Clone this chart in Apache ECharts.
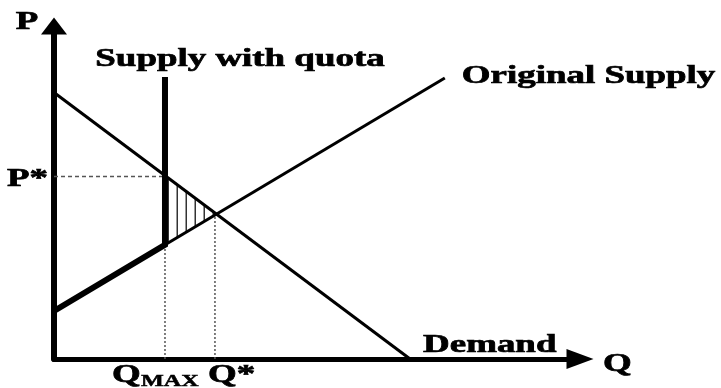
<!DOCTYPE html>
<html>
<head>
<meta charset="utf-8">
<script src="https://cdn.jsdelivr.net/npm/echarts@6/dist/echarts.min.js"></script>
<style>
  html, body { margin: 0; padding: 0; background: #fff; }
  #chart { width: 721px; height: 388px; }
</style>
</head>
<body>
<div id="chart"></div>
<script>
// values (axis units 0..100)
var demandPts = [[0, 81], [67.7, 0]];
var supplyPts = [[0, 14.6], [74.3, 85.4]];
var qMax = 21.1;
var quotaTop = 85.7;
var supplyAtQmax = 34.7;
var pStar = 55.5;
var qStar = 30.6;
var pEq = 44.2;
var curveNames = ['Demand', 'Original Supply', 'Supply with quota'];
var axisNames = ['P', 'Q'];
var starLabels = ['P*', 'Q*'];
var qMaxLabel = ['Q', 'MAX'];

var FONT = '"Liberation Serif", "Times New Roman", serif';
var SX = 1.42; // text in the picture is stretched wide

// vertical hatching pattern
var hatch = document.createElement('canvas');
hatch.width = 9;
hatch.height = 9;
var hctx = hatch.getContext('2d');
hctx.fillStyle = '#333';
hctx.fillRect(5.5, 0, 1.5, 9);

// text labels anchored to points of the chart
var notes = [
    { value: [qMax, quotaTop], text: curveNames[2], dx: 75, dy: -18, align: 'center' },
    { value: supplyPts[1], text: curveNames[1], dx: 17, dy: -2, align: 'left' },
    { value: demandPts[1], text: curveNames[0], dx: 13, dy: -14, align: 'left' },
    { value: [0, 101.2], text: axisNames[0], dx: -27, dy: -4, align: 'center' },
    { value: [100, 0], text: axisNames[1], dx: 23, dy: 5, align: 'left' },
    { value: [0, pStar], text: starLabels[0], dx: -6, dy: 3, align: 'right' },
    { value: [qStar, 0], text: starLabels[1], dx: -7, dy: 16, align: 'left' },
    { value: [qMax, 0], text: qMaxLabel[0], dx: -53, dy: 16, align: 'left', sub: qMaxLabel[1] }
];

var chart = echarts.init(document.getElementById('chart'));

var options = {
    animation: false,
    backgroundColor: '#fff',
    grid: { left: 54, right: 141, top: 26, bottom: 29 },
    xAxis: {
        type: 'value', min: 0, max: 100,
        axisLine: { show: true, symbol: ['none', 'triangle'], symbolSize: [20, 27],
            lineStyle: { color: '#000', width: 5 } },
        axisTick: { show: false }, axisLabel: { show: false }, splitLine: { show: false }
    },
    yAxis: {
        type: 'value', min: 0, max: 101.2,
        axisLine: { show: true, symbol: ['none', 'triangle'], symbolSize: [26, 17],
            lineStyle: { color: '#000', width: 6 } },
        axisTick: { show: false }, axisLabel: { show: false }, splitLine: { show: false }
    },
    series: [
        {
            // deadweight loss triangle
            type: 'custom',
            silent: true,
            z: 1,
            data: [[qMax, supplyAtQmax], [qMax, pStar], [qStar + 0.3, pEq]],
            renderItem: function (params, api) {
                if (params.dataIndex !== 0) return null;
                var d = [[qMax, supplyAtQmax], [qMax, pStar], [qStar + 0.3, pEq]];
                return {
                    type: 'polygon',
                    shape: { points: d.map(function (p) { return api.coord(p); }) },
                    style: { fill: { image: hatch, repeat: 'repeat' }, stroke: null }
                };
            }
        },
        {
            name: 'P* guide', type: 'line', symbol: 'none', z: 2,
            data: [[0, pStar], [qMax, pStar]],
            lineStyle: { color: '#555', width: 1.5, type: [4, 3] }
        },
        {
            name: 'Qmax guide', type: 'line', symbol: 'none', z: 2,
            data: [[qMax, 0], [qMax, supplyAtQmax]],
            lineStyle: { color: '#555', width: 1.5, type: [2, 2] }
        },
        {
            name: 'Q* guide', type: 'line', symbol: 'none', z: 2,
            data: [[qStar, 0], [qStar, pEq]],
            lineStyle: { color: '#555', width: 1.5, type: [2, 2] }
        },
        {
            name: curveNames[0], type: 'line', symbol: 'none', z: 3,
            data: demandPts,
            lineStyle: { color: '#000', width: 3 }
        },
        {
            name: curveNames[1], type: 'line', symbol: 'none', z: 3,
            data: supplyPts,
            lineStyle: { color: '#000', width: 3 }
        },
        {
            name: curveNames[2], type: 'line', symbol: 'none', z: 4,
            data: [supplyPts[0], [qMax, supplyAtQmax], [qMax, quotaTop]],
            lineStyle: { color: '#000', width: 6, join: 'miter' }
        },
        {
            type: 'custom',
            silent: true,
            clip: false,
            z: 5,
            data: notes.map(function (n) { return n.value; }),
            renderItem: function (params, api) {
                var n = notes[params.dataIndex];
                var pt = api.coord([api.value(0), api.value(1)]);
                var kids = [{
                    type: 'text',
                    x: pt[0] + n.dx, y: pt[1] + n.dy, scaleX: SX,
                    style: { text: n.text, font: 'bold 26px ' + FONT, fill: '#000',
                        stroke: '#000', lineWidth: 0.7,
                        align: n.align, verticalAlign: 'middle' }
                }];
                if (n.sub) {
                    kids.push({
                        type: 'text',
                        x: pt[0] + n.dx + 29, y: pt[1] + 23, scaleX: SX,
                        style: { text: n.sub, font: 'bold 17px ' + FONT, fill: '#000',
                            stroke: '#000', lineWidth: 0.5,
                            align: 'left', verticalAlign: 'middle' }
                    });
                }
                return { type: 'group', children: kids };
            }
        }
    ]
};

chart.setOption(options);
</script>
</body>
</html>
